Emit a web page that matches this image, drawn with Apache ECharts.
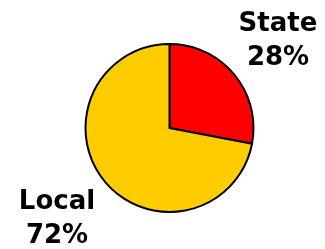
<!DOCTYPE html>
<html>
<head>
<meta charset="utf-8">
<script src="https://cdn.jsdelivr.net/npm/echarts@6/dist/echarts.min.js"></script>
<style>
  html, body { margin: 0; padding: 0; background: #fff; }
  #chart { width: 325px; height: 249px; }
</style>
</head>
<body>
<div id="chart"></div>
<script>
// data
const categories = ["State", "Local"];
const shares = [28, 72];
const sliceColors = ["#FF0000", "#FFCC00"];

// where each label block sits (centre of the two lines)
const labelSpots = [
  { x: 278, y: 41 },
  { x: 57, y: 219 }
];

const chart = echarts.init(document.getElementById("chart"), null, { renderer: "canvas" });

const option = {
  animation: false,
  backgroundColor: "#fff",
  series: [{
    type: "pie",
    center: [169.5, 128],
    radius: 84,
    startAngle: 90,
    clockwise: true,
    avoidLabelOverlap: false,
    itemStyle: {
      borderColor: "#000",
      borderWidth: 2
    },
    label: {
      show: true,
      formatter: "{b}\n{d}%",
      fontFamily: "DejaVu Sans",
      fontWeight: "bold",
      fontSize: 26,
      lineHeight: 34,
      color: "#000",
      align: "center"
    },
    labelLine: { show: false },
    labelLayout: function (params) {
      const spot = labelSpots[params.dataIndex];
      return { x: spot.x, y: spot.y, align: "center", verticalAlign: "middle" };
    },
    emphasis: { disabled: true },
    data: categories.map((name, i) => ({
      name: name,
      value: shares[i],
      itemStyle: { color: sliceColors[i] }
    }))
  }]
};

chart.setOption(option);
</script>
</body>
</html>
